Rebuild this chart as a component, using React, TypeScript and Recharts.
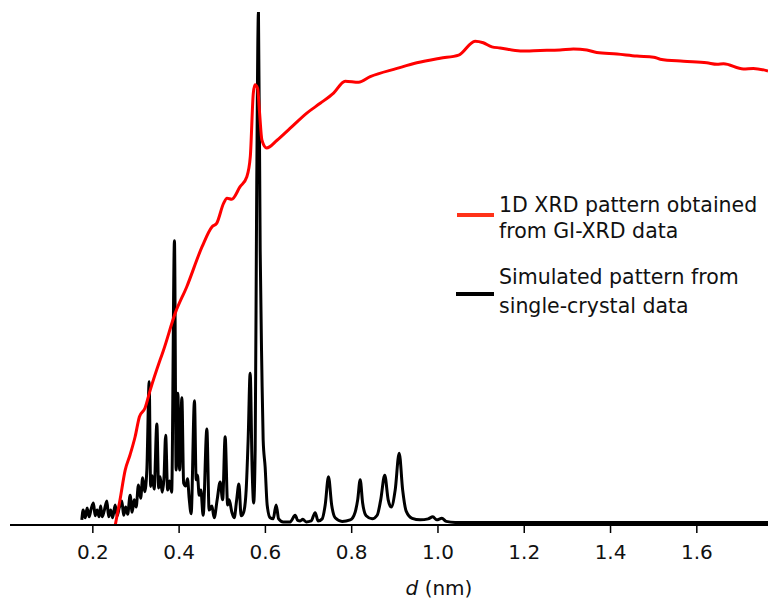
import { Line, LineChart, XAxis, YAxis } from "recharts"

// d spacing (nm) and intensity (% of the strongest simulated peak)
const redD = [
  0.252, 0.263, 0.275, 0.286, 0.298, 0.308, 0.321, 0.333, 0.356, 0.364, 0.391, 0.418, 0.453, 0.476, 0.487,
  0.503, 0.511, 0.522, 0.541, 0.557, 0.565, 0.572, 0.576, 0.582, 0.586, 0.592, 0.603, 0.627, 0.657, 0.696,
  0.727, 0.758, 0.785, 0.816, 0.843, 0.905, 0.951, 1.005, 1.048, 1.086, 1.105, 1.125, 1.144, 1.191, 1.237,
  1.283, 1.314, 1.345, 1.368, 1.415, 1.461, 1.5, 1.515, 1.569, 1.623, 1.647, 1.662, 1.708, 1.731, 1.765,
]
const redV = [
  0, 4.9, 10.7, 13.6, 17.2, 21.1, 22.8, 26.3, 32.2, 34.1, 41.3, 46.5, 54.2, 58.1, 58.8,
  62.7, 63.7, 63.5, 65.9, 67.9, 71.8, 84.2, 85.8, 85.1, 80.9, 75.0, 73.5, 75.0, 77.3, 80.3,
  82.2, 84.2, 86.5, 86.3, 87.4, 89.0, 90.1, 91.0, 91.6, 94.3, 94.0, 93.2, 93.0, 92.4, 92.5,
  92.6, 92.8, 92.6, 92.1, 91.8, 91.4, 91.2, 90.8, 90.4, 90.1, 89.8, 89.9, 88.9, 89.0, 88.5,
]

const blackD = [
  0.1745, 0.1776, 0.1822, 0.1868, 0.1915, 0.196, 0.2014, 0.2054, 0.21, 0.2146,
  0.2181, 0.2216, 0.2262, 0.2325, 0.2367, 0.2413, 0.2459, 0.2517, 0.2564, 0.261,
  0.2673, 0.2714, 0.2761, 0.2807, 0.2865, 0.2911, 0.2958, 0.3004, 0.3057, 0.3108,
  0.3155, 0.3201, 0.3252, 0.3306, 0.334, 0.3375, 0.3421, 0.3484, 0.3526, 0.356,
  0.3607, 0.3648, 0.3688, 0.3734, 0.3781, 0.3827, 0.3892, 0.3931, 0.397, 0.4012,
  0.4064, 0.4105, 0.4152, 0.4195, 0.4233, 0.4279, 0.4356, 0.4395, 0.4425, 0.4465,
  0.4504, 0.4557, 0.4643, 0.4696, 0.4759, 0.4812, 0.4882, 0.4951, 0.5009, 0.5067,
  0.5125, 0.516, 0.5222, 0.5276, 0.5334, 0.5385, 0.5438, 0.5496, 0.5554, 0.56,
  0.5647, 0.5693, 0.5728, 0.5763, 0.5797, 0.5839, 0.5879, 0.5918, 0.5948, 0.5994,
  0.6041, 0.611, 0.6179, 0.6249, 0.6307, 0.641, 0.6574, 0.669, 0.6748, 0.6806,
  0.6868, 0.6945, 0.7061, 0.7153, 0.7223, 0.7316, 0.7386, 0.7462, 0.7536, 0.7617,
  0.7779, 0.7965, 0.8023, 0.8081, 0.8139, 0.8197, 0.8254, 0.8336, 0.8475, 0.8591,
  0.8673, 0.8766, 0.8846, 0.8916, 0.9008, 0.9101, 0.9182, 0.9263, 0.9402, 0.9587,
  0.9773, 0.9882, 0.997, 1.0091, 1.019, 1.04, 1.0747, 1.77,
]
const blackV = [
  1.0, 2.9, 1.4, 3.3, 1.6, 3.1, 4.3, 1.8, 2.9, 1.6,
  3.7, 1.6, 2.7, 4.7, 1.6, 2.9, 1.4, 3.9, 1.8, 3.3,
  4.7, 1.9, 3.5, 2.1, 5.8, 2.5, 4.9, 3.5, 7.8, 5.2,
  9.2, 6.5, 10.7, 27.9, 7.5, 9.6, 7.0, 19.7, 7.2, 9.4,
  6.4, 9.0, 17.5, 6.8, 8.6, 6.4, 55.4, 10.7, 25.7, 10.7,
  24.8, 8.2, 7.6, 9.0, 5.2, 2.2, 24.2, 8.8, 9.7, 5.8,
  6.8, 1.9, 18.7, 2.9, 3.7, 1.4, 4.9, 8.4, 4.9, 17.2,
  3.9, 4.9, 2.5, 1.4, 4.9, 8.0, 1.8, 2.5, 6.8, 16.6,
  29.6, 10.7, 4.3, 14.6, 63.4, 100, 53.6, 30.2, 16.6, 11.3,
  3.9, 1.4, 1.2, 3.9, 1.2, 0.6, 0.6, 1.9, 0.9, 0.8,
  1.1, 0.6, 0.8, 2.4, 0.8, 1.2, 3.9, 9.4, 3.9, 1.4,
  0.7, 1.0, 1.4, 2.5, 4.9, 8.8, 4.3, 1.8, 1.2, 1.9,
  4.9, 9.7, 4.9, 3.5, 6.8, 14.0, 6.8, 2.7, 1.3, 1.0,
  1.2, 1.6, 1.0, 1.3, 0.7, 0.5, 0.5, 0.5,
]

const xTicks = [0.2, 0.4, 0.6, 0.8, 1.0, 1.2, 1.4, 1.6]

const redData = redD.map((d, i) => ({ d, v: redV[i] }))
const blackData = blackD.map((d, i) => ({ d, v: blackV[i] }))

const FONT = "'DejaVu Sans', sans-serif"

function AxisTitle() {
  return (
    <text x={439} y={595} textAnchor="middle" fontSize={20} fontFamily={FONT} fill="#111">
      <tspan fontStyle="italic">d</tspan>
      <tspan> (nm)</tspan>
    </text>
  )
}

const legendLine = (top: number, text: string) => (
  <div
    style={{
      position: "absolute",
      left: 499,
      top,
      fontSize: 20.5,
      lineHeight: "20px",
      fontFamily: FONT,
      color: "#111",
      whiteSpace: "nowrap",
    }}
  >
    {text}
  </div>
)

export default function App() {
  return (
    <div style={{ position: "absolute", left: 0, top: 0, width: 768, height: 601, background: "#fff" }}>
      <LineChart width={768} height={601} margin={{ top: 12, right: 0, left: 10, bottom: 0 }}>
        <XAxis
          type="number"
          dataKey="d"
          domain={[0.008, 1.765]}
          allowDataOverflow
          ticks={xTicks}
          tickFormatter={(v) => v.toFixed(1)}
          tickSize={8}
          tickMargin={12}
          height={76}
          axisLine={{ stroke: "#000", strokeWidth: 2 }}
          tickLine={{ stroke: "#000", strokeWidth: 1.5 }}
          tick={{ fill: "#111", fontSize: 20, fontFamily: FONT }}
          label={<AxisTitle />}
        />
        <YAxis hide type="number" domain={[0, 100]} allowDataOverflow />
        <Line
          data={blackData}
          dataKey="v"
          type="monotone"
          stroke="#000"
          strokeWidth={3}
          dot={false}
          isAnimationActive={false}
        />
        <Line
          data={redData}
          dataKey="v"
          type="monotone"
          stroke="#ff0000"
          strokeWidth={3}
          dot={false}
          isAnimationActive={false}
        />
      </LineChart>

      <div style={{ position: "absolute", left: 457, top: 213, width: 37, height: 4, background: "#ff3219" }} />
      {legendLine(195, "1D XRD pattern obtained")}
      {legendLine(221, "from GI-XRD data")}
      <div style={{ position: "absolute", left: 456, top: 292, width: 38, height: 4, background: "#000" }} />
      {legendLine(267, "Simulated pattern from")}
      {legendLine(296, "single-crystal data")}
    </div>
  )
}
